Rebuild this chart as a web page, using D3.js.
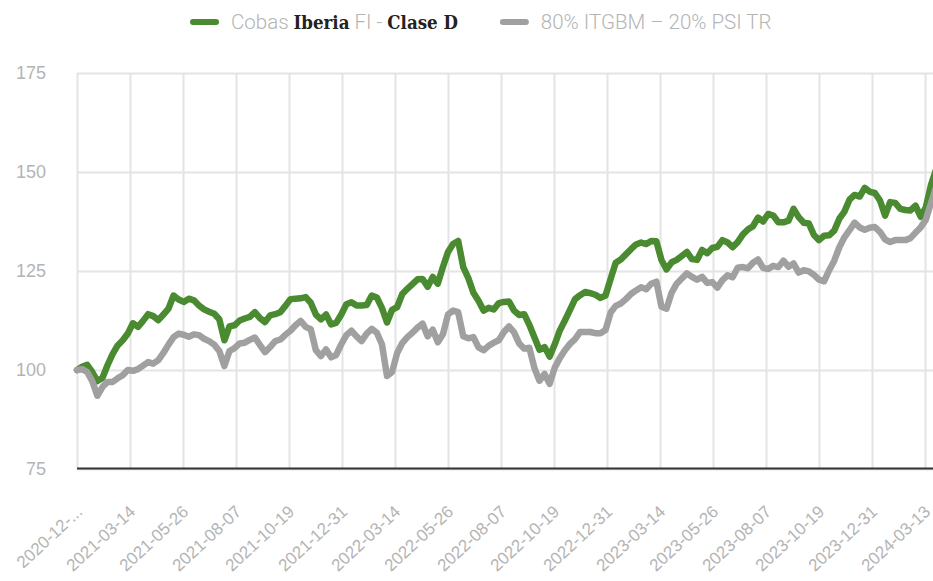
<!DOCTYPE html>
<html>
<head>
<meta charset="utf-8">
<script src="https://cdn.jsdelivr.net/npm/d3@7"></script>
<style>
    body { margin: 0; background: #fff; }
    svg { display: block; font-family: Roboto, "Noto Sans", sans-serif; }
</style>
</head>
<body>
<div id="chart"></div>
<script>
// weekly observations starting on startDate
var startDate = "2020-12-31";
var stepDays = 7;

var fundValues = [
    100, 100.8, 101.3, 99.5, 97.2, 98.0, 101.2, 104.0, 106.2, 107.5,
    109.2, 111.8, 110.9, 112.4, 114.1, 113.6, 112.6, 114.0, 115.5, 118.8,
    117.8, 117.2, 118.0, 117.6, 116.3, 115.3, 114.7, 114.2, 112.8, 107.5,
    111.0, 111.3, 112.5, 113.0, 113.4, 114.6, 113.1, 112.1, 113.8, 114.1,
    114.6, 116.2, 117.9, 118.0, 118.1, 118.4, 117.0, 114.0, 112.8, 114.0,
    111.5, 111.9, 114.0, 116.6, 117.1, 116.3, 116.3, 116.4, 118.8, 118.3,
    115.7, 112.0, 115.2, 115.9, 119.2, 120.5, 121.7, 122.9, 123.0, 121.0,
    123.5, 121.8, 126.0, 129.8, 131.8, 132.6, 126.0, 123.2, 119.5, 117.5,
    115.0, 115.7, 115.3, 116.9, 117.2, 117.3, 115.0, 113.9, 114.1, 111.4,
    108.3, 105.1, 105.8, 103.4, 106.5, 110.0, 112.5, 115.2, 117.9, 118.9,
    119.7, 119.4, 119.0, 118.2, 118.8, 123.0, 127.1, 127.9, 129.2, 130.5,
    131.7, 132.2, 131.8, 132.6, 132.5, 127.8, 125.4, 127.2, 127.8, 128.8,
    129.8, 128.0, 127.8, 130.3, 129.5, 130.8, 131.1, 132.8, 132.2, 131.0,
    132.3, 134.2, 135.5, 136.3, 138.5, 137.5, 139.4, 139.0, 137.3, 137.3,
    137.7, 140.7, 138.6, 137.2, 137.0, 134.1, 132.8, 133.9, 134.0, 135.2,
    138.2, 140.0, 143.0, 144.2, 143.8, 146.0, 145.0, 144.7, 142.8, 139.0,
    142.4, 142.2, 140.7, 140.4, 140.3, 141.5, 138.7, 141.0, 146.5, 150.5
];

var benchValues = [
    100, 100.2, 99.5, 97.2, 93.5, 95.7, 97.0, 97.0, 97.9, 98.7,
    100.0, 99.8, 100.2, 101.1, 102.0, 101.6, 102.5, 104.3, 106.4, 108.3,
    109.2, 108.9, 108.4, 109.0, 108.8, 107.9, 107.3, 106.4, 104.8, 101.0,
    104.8, 105.5, 106.7, 106.9, 107.6, 108.2, 106.3, 104.5, 105.8, 107.3,
    107.7, 108.9, 109.9, 111.3, 112.4, 110.9, 110.3, 105.0, 103.5, 105.2,
    103.2, 103.8, 106.5, 108.8, 109.9, 108.5, 107.3, 109.2, 110.4, 109.4,
    106.5, 98.5, 99.5, 104.3, 106.8, 108.3, 109.4, 110.7, 111.7, 108.5,
    110.2, 107.0, 109.0, 114.0, 115.0, 114.6, 108.5, 108.0, 108.3, 105.7,
    105.0, 106.1, 106.9, 107.5, 109.6, 111.0, 109.5, 106.7, 105.4, 105.6,
    100.5, 97.3, 99.0, 96.5, 100.6, 103.0, 105.0, 106.6, 107.8, 109.6,
    109.6, 109.6, 109.3, 109.3, 110.1, 114.5, 116.2, 116.8, 117.9, 119.2,
    120.1, 120.9, 120.4, 121.8, 122.3, 116.0, 115.5, 119.5, 121.8, 123.1,
    124.4, 123.5, 122.8, 123.5, 122.0, 122.2, 120.8, 122.7, 123.9, 123.4,
    125.8, 126.0, 125.7, 127.1, 127.9, 125.8, 125.5, 126.3, 126.0, 127.6,
    126.1, 126.9, 124.6, 125.2, 124.9, 124.0, 122.8, 122.4, 125.2, 127.6,
    131.0, 133.5, 135.3, 137.2, 136.0, 135.4, 135.9, 136.1, 134.9, 133.0,
    132.3, 132.8, 132.8, 132.8, 133.3, 134.7, 136.0, 137.9, 142.0, 146.0
];

var tickDates = [
    "2020-12-31", "2021-03-14", "2021-05-26", "2021-08-07", "2021-10-19", "2021-12-31",
    "2022-03-14", "2022-05-26", "2022-08-07", "2022-10-19", "2022-12-31",
    "2023-03-14", "2023-05-26", "2023-08-07", "2023-10-19", "2023-12-31", "2024-03-13"
];
var tickLabels = [
    "2020-12-...", "2021-03-14", "2021-05-26", "2021-08-07", "2021-10-19", "2021-12-31",
    "2022-03-14", "2022-05-26", "2022-08-07", "2022-10-19", "2022-12-31",
    "2023-03-14", "2023-05-26", "2023-08-07", "2023-10-19", "2023-12-31", "2024-03-13"
];
var yTicks = [75, 100, 125, 150, 175];

var seriesColors = ["#4a8a30", "#a0a0a0"];
var legendParts = [
    [["Cobas ", false], ["Iberia", true], [" FI - ", false], ["Clase D", true]],
    [["80% ITGBM \u2013 20% PSI TR", false]]
];

var chart = (function () {
    var W = 933, H = 581,
        left = 77, right = 933, top = 73, bottom = 469,
        parse = d3.timeParse("%Y-%m-%d");

    var dates = fundValues.map(function (v, i) {
        return d3.timeDay.offset(parse(startDate), i * stepDays);
    });

    return {
        draw: function (sel) {
            var svg = d3.select(sel).append("svg").attr("width", W).attr("height", H);

            var x = d3.scaleTime()
                .domain([parse(tickDates[0]), parse(tickDates[tickDates.length - 1])])
                .range([77, 925]);
            var y = d3.scaleLinear().domain([75, 175]).range([bottom, top]);

            // y grid + labels
            var ya = svg.append("g").attr("transform", "translate(" + left + ",0)")
                .call(d3.axisLeft(y).tickValues(yTicks).tickSize(-(right - left)).tickPadding(31).tickFormat(d3.format("d")));
            ya.select(".domain").remove();
            ya.selectAll("line").attr("stroke", "#e4e4e4").attr("stroke-width", 2);
            ya.selectAll("text").attr("fill", "#b4b4b4").attr("font-size", 18).attr("font-weight", 300);

            // x grid + labels
            var xa = svg.append("g").attr("transform", "translate(0," + bottom + ")")
                .call(d3.axisBottom(x).tickValues(tickDates.map(parse)).tickSize(-(bottom - top))
                    .tickFormat(function (d, i) { return tickLabels[i]; }));
            xa.select(".domain").remove();
            xa.selectAll("line").attr("stroke", "#e4e4e4").attr("stroke-width", 2);
            xa.selectAll("text")
                .attr("fill", "#b4b4b4").attr("font-size", 17).attr("font-weight", 300)
                .attr("text-anchor", "end")
                .attr("y", 0).attr("dy", 0)
                .attr("transform", "translate(6,44) rotate(-43)");

            svg.append("line")
                .attr("x1", left).attr("x2", right).attr("y1", bottom - 0.5).attr("y2", bottom - 0.5)
                .attr("stroke", "#333").attr("stroke-width", 2);

            var line = d3.line()
                .x(function (d, i) { return x(dates[i]); })
                .y(function (d) { return y(d); });

            [fundValues, benchValues].forEach(function (vals, k) {
                svg.append("path")
                    .datum(vals)
                    .attr("d", line)
                    .attr("fill", "none")
                    .attr("stroke", seriesColors[k])
                    .attr("stroke-width", 6.5)
                    .attr("stroke-linejoin", "round")
                    .attr("stroke-linecap", "round");
            });

            // legend
            var lx = 190;
            legendParts.forEach(function (parts, k) {
                svg.append("line")
                    .attr("x1", lx + 3).attr("x2", lx + 26).attr("y1", 22).attr("y2", 22)
                    .attr("stroke", seriesColors[k]).attr("stroke-width", 6).attr("stroke-linecap", "round");
                var t = svg.append("text").attr("x", lx + 41).attr("y", 29).attr("font-size", 20);
                parts.forEach(function (p) {
                    t.append("tspan")
                        .attr("font-family", p[1] ? "'DejaVu Serif', serif" : null)
                        .attr("font-weight", p[1] ? 700 : 300)
                        .attr("font-stretch", p[1] ? "condensed" : null)
                        .attr("font-size", p[1] ? 18.5 : 20.5)
                        .attr("fill", p[1] ? "#222" : "#b4b4b4")
                        .text(p[0]);
                });
                lx = lx + 41 + t.node().getComputedTextLength() + 42;
            });
        }
    };
})();

chart.draw("#chart");
</script>
</body>
</html>
